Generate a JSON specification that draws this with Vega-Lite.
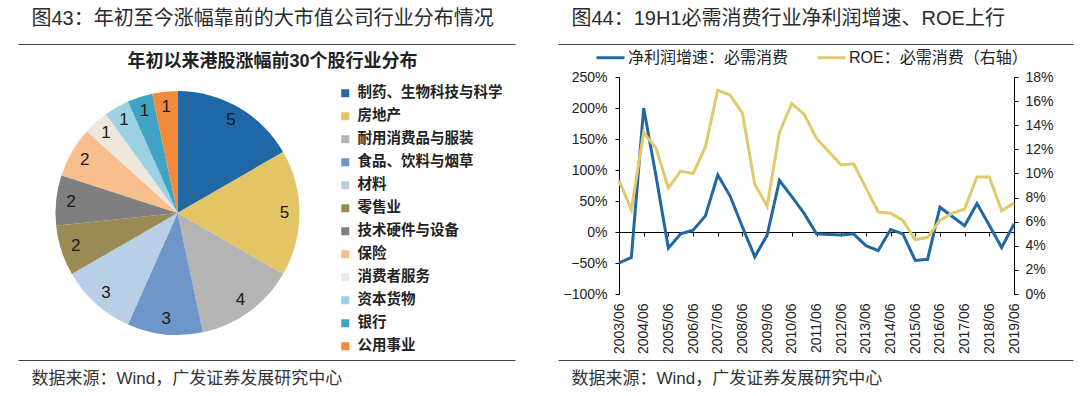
{
  "$schema": "https://vega.github.io/schema/vega-lite/v6.json",
  "background": "white",
  "padding": {"left": 15, "top": 8, "right": 0, "bottom": 0},
  "columns": 2,
  "bounds": "flush",
  "spacing": {"row": 0, "column": 282},
  "resolve": {"scale": {"color": "independent"}, "legend": {"color": "independent"}},
  "datasets": {
    "dummy": [{"a": 0}],
    "pie": [
      {"cat": "制药、生物科技与科学", "v": 5, "i": 1},
      {"cat": "房地产", "v": 5, "i": 2},
      {"cat": "耐用消费品与服装", "v": 4, "i": 3},
      {"cat": "食品、饮料与烟草", "v": 3, "i": 4},
      {"cat": "材料", "v": 3, "i": 5},
      {"cat": "零售业", "v": 2, "i": 6},
      {"cat": "技术硬件与设备", "v": 2, "i": 7},
      {"cat": "保险", "v": 2, "i": 8},
      {"cat": "消费者服务", "v": 1, "i": 9},
      {"cat": "资本货物", "v": 1, "i": 10},
      {"cat": "银行", "v": 1, "i": 11},
      {"cat": "公用事业", "v": 1, "i": 12}
    ],
    "ts": [
      {"d": "2003/06", "np": -0.50, "roe": 0.094},
      {"d": "2003/12", "np": -0.41, "roe": 0.070},
      {"d": "2004/06", "np": 2.00, "roe": 0.134},
      {"d": "2004/12", "np": 0.90, "roe": 0.121},
      {"d": "2005/06", "np": -0.26, "roe": 0.088},
      {"d": "2005/12", "np": -0.03, "roe": 0.102},
      {"d": "2006/06", "np": 0.03, "roe": 0.100},
      {"d": "2006/12", "np": 0.26, "roe": 0.122},
      {"d": "2007/06", "np": 0.92, "roe": 0.169},
      {"d": "2007/12", "np": 0.58, "roe": 0.165},
      {"d": "2008/06", "np": 0.08, "roe": 0.150},
      {"d": "2008/12", "np": -0.40, "roe": 0.091},
      {"d": "2009/06", "np": -0.05, "roe": 0.073},
      {"d": "2009/12", "np": 0.83, "roe": 0.134},
      {"d": "2010/06", "np": 0.57, "roe": 0.158},
      {"d": "2010/12", "np": 0.30, "roe": 0.149},
      {"d": "2011/06", "np": -0.03, "roe": 0.129},
      {"d": "2011/12", "np": -0.04, "roe": 0.118},
      {"d": "2012/06", "np": -0.05, "roe": 0.107},
      {"d": "2012/12", "np": -0.03, "roe": 0.108},
      {"d": "2013/06", "np": -0.22, "roe": 0.088},
      {"d": "2013/12", "np": -0.30, "roe": 0.068},
      {"d": "2014/06", "np": 0.04, "roe": 0.067},
      {"d": "2014/12", "np": -0.03, "roe": 0.061},
      {"d": "2015/06", "np": -0.46, "roe": 0.045},
      {"d": "2015/12", "np": -0.44, "roe": 0.047},
      {"d": "2016/06", "np": 0.40, "roe": 0.061},
      {"d": "2016/12", "np": 0.25, "roe": 0.067},
      {"d": "2017/06", "np": 0.10, "roe": 0.0705},
      {"d": "2017/12", "np": 0.46, "roe": 0.097},
      {"d": "2018/06", "np": 0.11, "roe": 0.097},
      {"d": "2018/12", "np": -0.25, "roe": 0.069},
      {"d": "2019/06", "np": 0.13, "roe": 0.0755}
    ]
  },
  "concat": [
    {
      "width": 319, "height": 33,
      "data": {"name": "dummy"},
      "mark": {"type": "point", "opacity": 0},
      "encoding": {
        "x": {"field": "a", "type": "quantitative", "scale": {"domain": [0, 1], "rangeMin": 0, "rangeMax": 497},
          "axis": {"orient": "top", "labels": false, "ticks": false, "grid": false, "domain": true, "domainColor": "#444", "domainWidth": 1,
            "title": "图43：年初至今涨幅靠前的大市值公司行业分布情况", "titleX": 13, "titleY": -26, "titleAlign": "left", "titleBaseline": "middle",
            "titleFont": "'Liberation Sans', 'Noto Sans CJK SC'", "titleFontSize": 20, "titleFontWeight": "normal", "titleColor": "#2b2b2b"}}
      }
    },
    {
      "width": 395, "height": 33,
      "data": {"name": "dummy"},
      "mark": {"type": "point", "opacity": 0},
      "encoding": {
        "x": {"field": "a", "type": "quantitative", "scale": {"domain": [0, 1], "rangeMin": -61, "rangeMax": 454},
          "axis": {"orient": "top", "labels": false, "ticks": false, "grid": false, "domain": true, "domainColor": "#444", "domainWidth": 1,
            "title": "图44：19H1必需消费行业净利润增速、ROE上行", "titleX": -48, "titleY": -26, "titleAlign": "left", "titleBaseline": "middle",
            "titleFont": "'Liberation Sans', 'Noto Sans CJK SC'", "titleFontSize": 20, "titleFontWeight": "normal", "titleColor": "#2b2b2b"}}
      }
    },
    {
      "width": 319, "height": 272,
      "data": {"name": "pie"},
      "title": {"text": "年初以来港股涨幅前30个股行业分布", "anchor": "middle", "dx": 95, "offset": 6,
        "font": "'Liberation Sans', 'Noto Sans CJK SC'", "fontSize": 18, "fontWeight": "bold", "color": "#222"},
      "encoding": {
        "theta": {"field": "v", "type": "quantitative", "stack": true},
        "order": {"field": "i", "type": "quantitative"}
      },
      "layer": [
        {
          "mark": {"type": "arc", "outerRadius": 122},
          "encoding": {
            "color": {"field": "cat", "type": "nominal", "sort": null,
              "scale": {"domain": ["制药、生物科技与科学", "房地产", "耐用消费品与服装", "食品、饮料与烟草", "材料", "零售业", "技术硬件与设备", "保险", "消费者服务", "资本货物", "银行", "公用事业"],
                "range": ["#1f67a5", "#e3c565", "#b4b4b4", "#6f96c9", "#b9cee7", "#9a8b55", "#7f7f7f", "#f9be8e", "#ede7dc", "#9dd0e1", "#41a3c4", "#f18b3b"]},
              "legend": {"orient": "none", "direction": "vertical", "columns": 1, "legendX": 320, "legendY": 9, "title": null, "symbolType": "square", "symbolSize": 64, "symbolStrokeWidth": 0,
                "labelFont": "'Noto Sans CJK SC'", "labelFontSize": 14.5, "labelColor": "#222", "labelFontWeight": "bold", "rowPadding": 8, "labelOffset": 5, "padding": 0, "labelLimit": 0}}
          }
        },
        {
          "mark": {"type": "text", "radius": 107, "font": "'Liberation Sans'", "fontSize": 17, "color": "#1a1a1a"},
          "encoding": {"text": {"field": "v", "type": "quantitative"}}
        }
      ]
    },
    {
      "width": 395, "height": 217,
      "data": {"name": "ts"},
      "layer": [
        {
          "mark": {"type": "line", "strokeWidth": 3},
          "encoding": {
            "x": {"field": "d", "type": "ordinal", "sort": null, "scale": {"type": "point", "padding": 0},
              "axis": {"orient": "bottom", "title": null, "domain": false, "ticks": false, "labelAngle": -90, "labelPadding": 9,
                "labelFont": "'Liberation Sans'", "labelFontSize": 14, "labelColor": "#222",
                "values": ["2003/06", "2004/06", "2005/06", "2006/06", "2007/06", "2008/06", "2009/06", "2010/06", "2011/06", "2012/06", "2013/06", "2014/06", "2015/06", "2016/06", "2017/06", "2018/06", "2019/06"]}},
            "y": {"field": "np", "type": "quantitative", "scale": {"domain": [-1, 2.5], "nice": false, "zero": false},
              "axis": {"orient": "left", "title": null, "grid": false, "format": ".0%", "values": [-1, -0.5, 0, 0.5, 1, 1.5, 2, 2.5],
                "domainColor": "#000", "tickColor": "#000", "tickSize": 4, "labelPadding": 8,
                "labelFont": "'Liberation Sans'", "labelFontSize": 14, "labelColor": "#222"}},
            "color": {"datum": "净利润增速：必需消费",
              "scale": {"domain": ["净利润增速：必需消费", "ROE：必需消费（右轴）"], "range": ["#2168a3", "#e2c96b"]},
              "legend": {"orient": "none", "direction": "horizontal", "legendX": -24, "legendY": -35, "title": null,
                "symbolType": "stroke", "symbolSize": 784, "symbolStrokeWidth": 3, "labelOffset": 2, "columnPadding": 22, "labelLimit": 0,
                "labelFont": "'Liberation Sans', 'Noto Sans CJK SC'", "labelFontSize": 16, "labelColor": "#222", "padding": 0}}
          }
        },
        {
          "mark": {"type": "line", "strokeWidth": 3},
          "encoding": {
            "x": {"field": "d", "type": "ordinal", "sort": null, "scale": {"type": "point", "padding": 0},
              "axis": {"orient": "bottom", "offset": -62, "title": null, "labels": false, "domain": true, "ticks": true, "tickSize": 4,
                "domainColor": "#000", "tickColor": "#000", "grid": false,
                "values": ["2003/06", "2004/06", "2005/06", "2006/06", "2007/06", "2008/06", "2009/06", "2010/06", "2011/06", "2012/06", "2013/06", "2014/06", "2015/06", "2016/06", "2017/06", "2018/06", "2019/06"]}},
            "y": {"field": "roe", "type": "quantitative", "scale": {"domain": [0, 0.18], "nice": false, "zero": false},
              "axis": {"orient": "right", "title": null, "grid": false, "format": ".0%", "values": [0, 0.02, 0.04, 0.06, 0.08, 0.1, 0.12, 0.14, 0.16, 0.18],
                "domainColor": "#000", "tickColor": "#000", "tickSize": 4, "labelPadding": 7,
                "labelFont": "'Liberation Sans'", "labelFontSize": 14, "labelColor": "#222"}},
            "color": {"datum": "ROE：必需消费（右轴）"}
          }
        }
      ],
      "resolve": {"scale": {"y": "independent"}, "axis": {"x": "independent"}}
    },
    {
      "width": 319, "height": 11,
      "data": {"name": "dummy"},
      "mark": {"type": "point", "opacity": 0},
      "encoding": {
        "x": {"field": "a", "type": "quantitative", "scale": {"domain": [0, 1], "rangeMin": 0, "rangeMax": 497},
          "axis": {"orient": "bottom", "labels": false, "ticks": false, "grid": false, "domain": true, "domainColor": "#444", "domainWidth": 1,
            "title": "数据来源：Wind，广发证券发展研究中心", "titleX": 13, "titleY": 18, "titleAlign": "left", "titleBaseline": "middle",
            "titleFont": "'Liberation Sans', 'Noto Sans CJK SC'", "titleFontSize": 17, "titleFontWeight": "normal", "titleColor": "#333"}}
      }
    },
    {
      "width": 395, "height": 11,
      "data": {"name": "dummy"},
      "mark": {"type": "point", "opacity": 0},
      "encoding": {
        "x": {"field": "a", "type": "quantitative", "scale": {"domain": [0, 1], "rangeMin": -61, "rangeMax": 454},
          "axis": {"orient": "bottom", "labels": false, "ticks": false, "grid": false, "domain": true, "domainColor": "#444", "domainWidth": 1,
            "title": "数据来源：Wind，广发证券发展研究中心", "titleX": -48, "titleY": 18, "titleAlign": "left", "titleBaseline": "middle",
            "titleFont": "'Liberation Sans', 'Noto Sans CJK SC'", "titleFontSize": 17, "titleFontWeight": "normal", "titleColor": "#333"}}
      }
    }
  ],
  "config": {
    "view": {"stroke": null},
    "font": "'Noto Sans CJK SC'"
  }
}
